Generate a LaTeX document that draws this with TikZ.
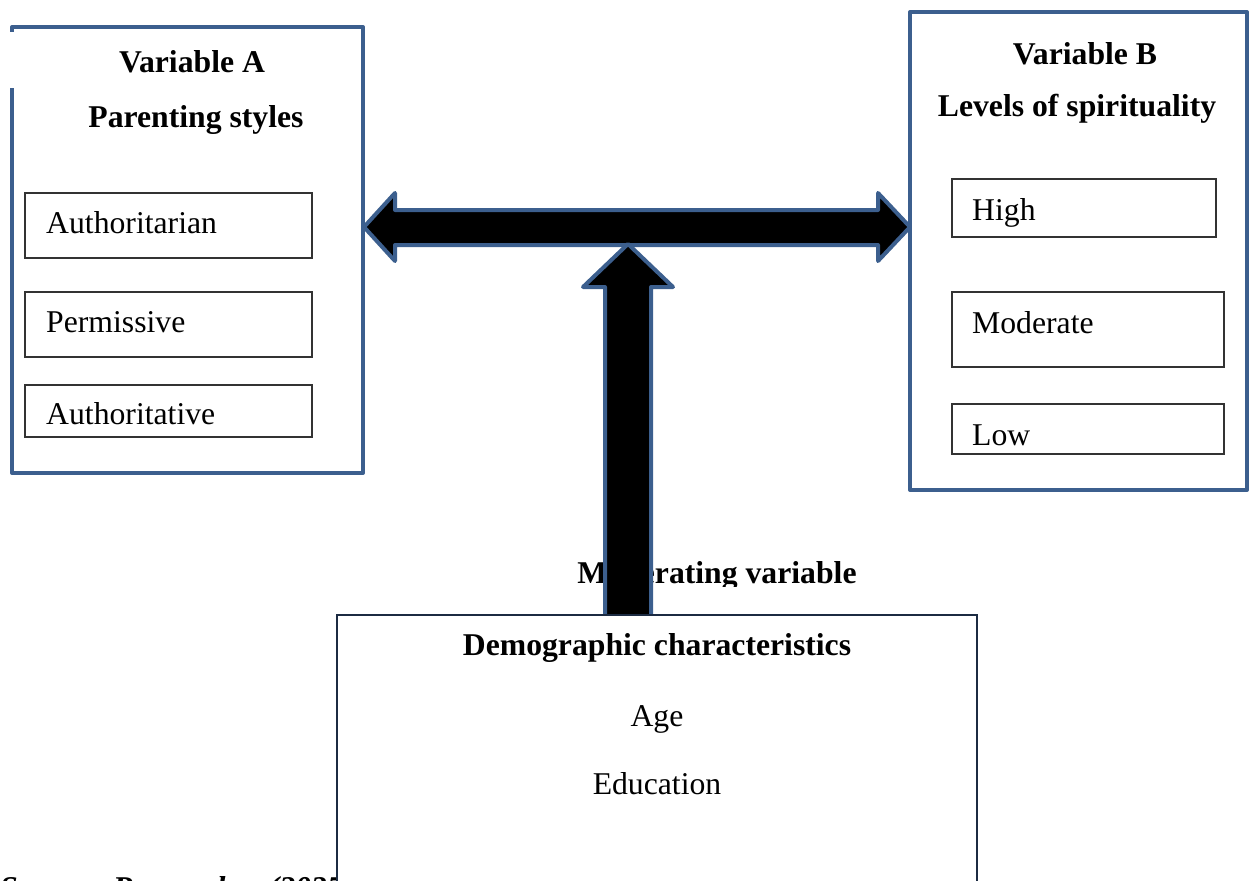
\documentclass[tikz,border=0pt]{standalone}
\usepackage{fontspec}
\setmainfont{Liberation Serif}
\begin{document}
\begin{tikzpicture}[x=1pt,y=-1pt,
  outer/.style={draw=blueline,line width=4pt,line join=round},
  inner/.style={draw=innerline,line width=1.3pt,minimum height=#1,inner sep=0pt},
  lbl/.style={anchor=base west,inner sep=0pt,font=\fontsize{31.7}{38}\selectfont},
  ttl/.style={anchor=base,inner sep=0pt,font=\fontsize{31.7}{38}\selectfont\bfseries},
  txt/.style={anchor=base,inner sep=0pt,font=\fontsize{31.7}{38}\selectfont},
  bigarrow/.style={fill=black,draw=blueline,line width=4pt,line join=round}]
\definecolor{blueline}{HTML}{3C5F8E}
\definecolor{innerline}{HTML}{333333}
\definecolor{darkline}{HTML}{1C2B42}
\useasboundingbox (0,0) rectangle (1249,880);
\clip (0,0) rectangle (1249,880);
% source text (partly hidden)
\node[anchor=base west,inner sep=0pt,font=\fontsize{31.7}{38}\selectfont\bfseries\itshape] (src) at (0,898) {Source: Researcher (2025)};
% Box A
\coordinate (a1) at (12,88);
\coordinate (a2) at (12,27);
\coordinate (a3) at (363,27);
\coordinate (a4) at (363,473);
\coordinate (a5) at (12,473);
\draw[outer] (12,32) -- (a2) -- (a3) -- (a4) -- (a5) -- (a1);
\node[ttl] (ta1) at (192,73) {Variable A};
\node[ttl] (ta2) at (196,128) {Parenting styles};
\node[inner=65pt,minimum width=287pt] (ia1) at (168.5,225.5) {};
\node[inner=65pt,minimum width=287pt] (ia2) at (168.5,324.5) {};
\node[inner=52pt,minimum width=287pt] (ia3) at (168.5,411) {};
\node[lbl] at (46,233) {Authoritarian};
\node[lbl] at (46,332) {Permissive};
\node[lbl] at (46,424) {Authoritative};
% Box B
\node[outer,minimum width=337pt,minimum height=478pt,inner sep=0pt] (boxB) at (1078.5,251) {};
\node[ttl] (tb1) at (1085,65) {Variable B};
\node[ttl] (tb2) at (1077,117) {Levels of spirituality};
\node[inner=58pt,minimum width=264pt] (ib1) at (1084,208) {};
\node[inner=75pt,minimum width=272pt] (ib2) at (1088,329.5) {};
\node[inner=50pt,minimum width=272pt] (ib3) at (1088,429) {};
\node[lbl] at (972,220) {High};
\node[lbl] at (972,333) {Moderate};
\node[lbl] at (972,445) {Low};
% Horizontal double arrow
\coordinate (L) at (364,227);
\coordinate (R) at (910,227);
\draw[bigarrow] (L) -- (395,193) -- (395,210) -- (878,210) -- (878,193) -- (R)
  -- (878,261) -- (878,245) -- (395,245) -- (395,261) -- cycle;
% Moderating label (clipped)
\begin{scope}
\clip (500,540) rectangle (900,586);
\node[ttl] (mod) at (717,583) {Moderating variable};
\end{scope}
% Vertical arrow
\coordinate (T) at (628,244);
\draw[bigarrow] (T) -- (673,287) -- (651,287) -- (651,617) -- (605,617) -- (605,287) -- (583,287) -- cycle;
% Bottom box
\draw[draw=darkline,fill=white,line width=2pt] (337,900) -- (337,615) -- (977,615) -- (977,900);
\node[ttl] (tc1) at (657,655) {Demographic characteristics};
\node[txt] (tc2) at (657,726) {Age};
\node[txt] (tc3) at (657,794) {Education};
\end{tikzpicture}
\end{document}
